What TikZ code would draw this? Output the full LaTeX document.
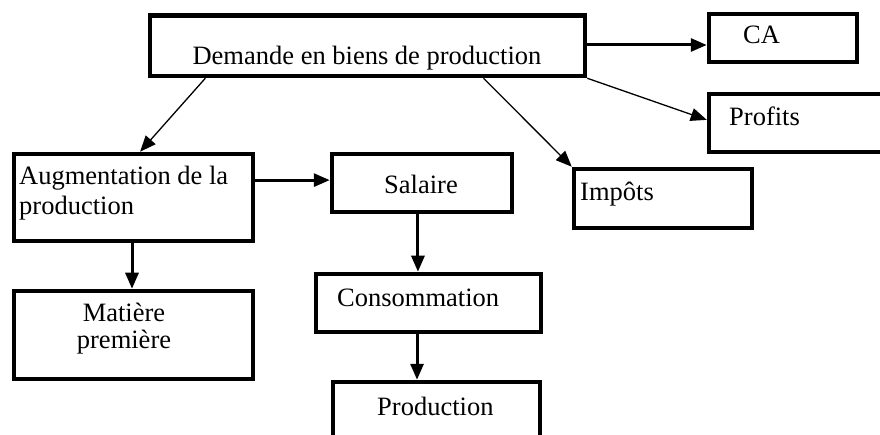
\documentclass[tikz,border=0pt]{standalone}
\usepackage{fontspec}
\setmainfont{Liberation Serif}
\usetikzlibrary{arrows.meta,calc}
\begin{document}
\begin{tikzpicture}[x=1pt,y=-1pt,
  box/.style={draw,line width=4.5pt,inner sep=0pt},
  lbl/.style={inner sep=0pt,font=\fontsize{26.5}{28}\selectfont},
  thickarr/.style={line width=3pt,-{Triangle[length=16pt,width=13pt]}},
  thinarr/.style={line width=1.3pt,-{Triangle[length=16pt,width=13pt]}}]
\useasboundingbox (0,0) rectangle (880,435);
% boxes
\node[box,minimum width=435pt,minimum height=60.5pt] (dem) at (367.5,45.75) {};
\node[box,minimum width=148pt,minimum height=48pt] (ca) at (783,38) {};
\node[box,minimum width=186pt,minimum height=58pt] (prof) at (802,123) {};
\node[box,minimum width=178pt,minimum height=59pt] (imp) at (663,198.5) {};
\node[box,minimum width=239pt,minimum height=87pt] (aug) at (133.5,197.5) {};
\node[box,minimum width=180pt,minimum height=58pt] (sal) at (422,183) {};
\node[box,minimum width=239pt,minimum height=88pt] (mat) at (133.5,335) {};
\node[box,minimum width=225pt,minimum height=58pt] (cons) at (428.5,303) {};
\node[box,minimum width=207pt,minimum height=78pt] (prodn) at (436.5,421) {};
% texts
\node[lbl,anchor=base] (tdem) at (367,65) {Demande en biens de production};
\node[lbl,anchor=base west] (tca) at (743,44) {CA};
\node[lbl,anchor=base west] (tprof) at (729,126) {Profits};
\node[lbl,anchor=base west] (timp) at (580,201) {Impôts};
\node[lbl,anchor=base west] (taug) at (19,185) {\vtop{\baselineskip=30pt\hbox{Augmentation de la}\hbox{production}}};
\node[lbl,anchor=base] (tsal) at (421,194) {Salaire};
\node[lbl,anchor=base] (tmat) at (124,321) {\vtop{\baselineskip=28pt\hbox to 0pt{\hss Matière\hss}\hbox to 0pt{\hss première\hss}}};
\node[lbl,anchor=base west] (tcons) at (337,307) {Consommation};
\node[lbl,anchor=base west] (tprodn) at (377,415) {Production};
% connectors
\draw[thickarr] (dem.east |- 0,45) -- (ca.west |- 0,45);
\draw[thinarr] (dem.south east) -- ($(prof.north west)!0.45!(prof.south west)$);
\draw[thinarr] ($(dem.south west)!0.131!(dem.south east)$) -- ($(aug.north west)!0.527!(aug.north east)$);
\draw[thinarr] ($(dem.south west)!0.764!(dem.south east)$) -- (imp.north west);
\coordinate (augr) at ($(aug.north east)!0.31!(aug.south east)$);
\draw[thickarr] (augr) -- (augr -| sal.west);
\draw[thickarr] (aug.south -| 132,0) -- (mat.north -| 132,0);
\coordinate (sals) at ($(sal.south west)!0.478!(sal.south east)$);
\draw[thickarr] (sals) -- (sals |- cons.north);
\coordinate (conss) at ($(cons.south west)!0.45!(cons.south east)$);
\draw[thickarr] (conss) -- (conss |- prodn.north);
\end{tikzpicture}
\end{document}
